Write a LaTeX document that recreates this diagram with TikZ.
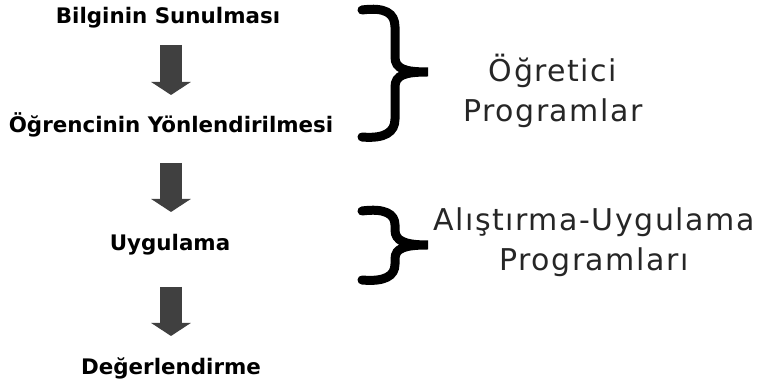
\documentclass[tikz,border=0pt]{standalone}
\usepackage{fontspec}
\setmainfont{DejaVu Sans}
\newfontfamily\groupfont[LetterSpace=5]{DejaVu Sans}
\usepackage{tikz}
\usetikzlibrary{arrows.meta}
\tikzset{
  stage/.style={inner sep=0pt, font=\fontsize{21.4}{25}\selectfont\bfseries},
  group/.style={inner sep=0pt, align=center, text=black!85, font=\groupfont\fontsize{30}{40}\selectfont},
  flowarrow/.style={black!75, line width=22pt, -{Triangle[width=39pt,length=13pt]}},
  bracket/.style={line width=9pt, line cap=round},
}
\begin{document}
\begin{tikzpicture}[x=1pt,y=1pt]
  \useasboundingbox (0,0) rectangle (760,387);
  % stages
  \node[stage] (sunum) at (168,369) {Bilginin Sunulması};
  \node[stage] (yonlendir) at (171,262) {Öğrencinin Yönlendirilmesi};
  \node[stage] (uygulama) at (170,142) {Uygulama};
  \node[stage] (deger) at (171,19) {Değerlendirme};
  % arrows between stages
  \draw[flowarrow, shorten <=27pt, shorten >=30pt] (yonlendir.center |- sunum.center) -- (yonlendir.center);
  \draw[flowarrow, shorten <=38pt, shorten >=33pt] (yonlendir.center) -- (yonlendir.center |- uygulama.center);
  \draw[flowarrow, shorten <=42pt, shorten >=32pt] (yonlendir.center |- uygulama.center) -- (yonlendir.center |- deger.center);
  % braces
  \draw[bracket] (362,377) .. controls (385,380) and (395,374) .. (395,360) -- (395,330)
    .. controls (395,318) and (405,315) .. (428,315)
    .. controls (405,315) and (395,312) .. (395,300) -- (395,268)
    .. controls (395,255) and (385,248) .. (362,250);
  \draw[bracket] (362,176) .. controls (385,179) and (395,173) .. (395,162) -- (395,157)
    .. controls (395,146) and (405,142) .. (428,142)
    .. controls (405,142) and (395,139) .. (395,128) -- (395,123)
    .. controls (395,111) and (385,105) .. (362,107);
  % program types
  \node[group] (ogretici) at (553,296) {Öğretici\\Programlar};
  \node[group] (alistirma) at (594,145) {Alıştırma-Uygulama\\Programları};
\end{tikzpicture}
\end{document}
